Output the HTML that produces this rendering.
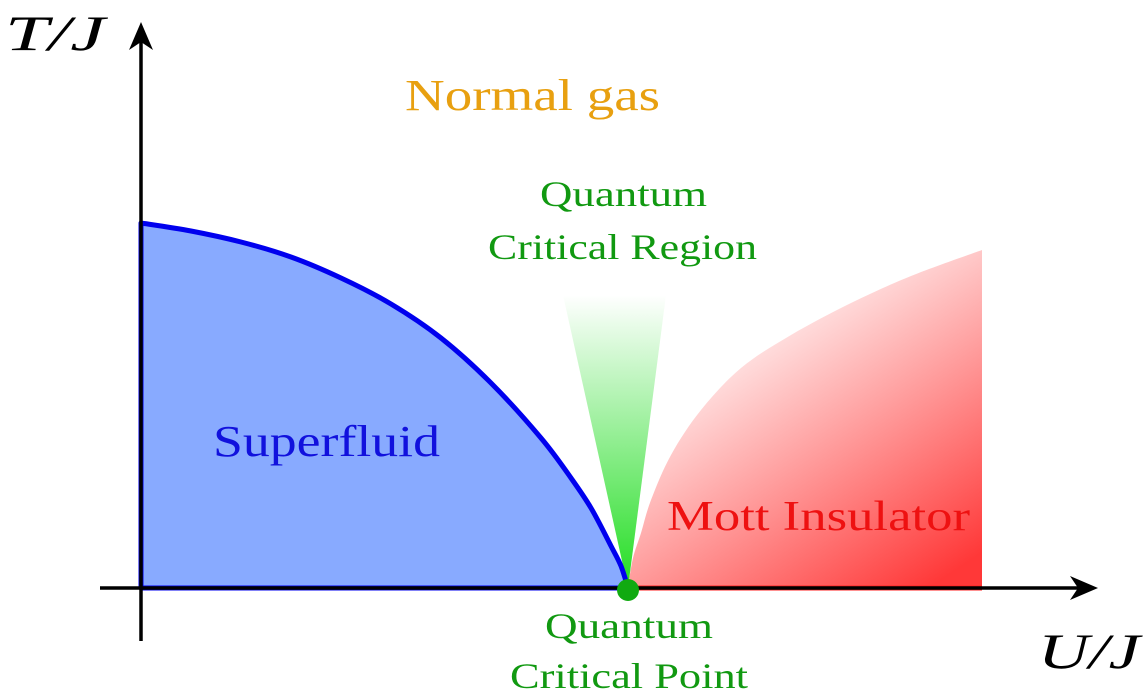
<!DOCTYPE html>
<html><head><meta charset="utf-8"><style>
html,body{margin:0;padding:0;background:#fff;}
svg{display:block;font-family:"Liberation Serif",serif;}
</style></head><body>
<svg id="chart" width="1145" height="690" viewBox="0 0 1145 690" xmlns="http://www.w3.org/2000/svg">
<defs>
<linearGradient id="gGreen" x1="0" y1="0" x2="0" y2="1">
<stop offset="0" stop-color="#22dd22" stop-opacity="0"/>
<stop offset="1" stop-color="#22dd22" stop-opacity="1"/>
</linearGradient>
<linearGradient id="gRed" x1="0.15" y1="0" x2="0.85" y2="1">
<stop offset="0.15" stop-color="#ff3333" stop-opacity="0"/>
<stop offset="1" stop-color="#ff2222" stop-opacity="0.9"/>
</linearGradient>
</defs>
<g id="regions"></g>
<g>
<line x1="100" y1="588" x2="1085" y2="588" stroke="#000" stroke-width="3.5"/>
<path d="M1098,588 L1070,576 L1078,588 L1070,600 Z" fill="#000"/>
<line x1="141" y1="641" x2="141" y2="35" stroke="#000" stroke-width="3.5"/>
<path d="M141,22 L129,50 L141,42 L153,50 Z" fill="#000"/>
</g>
<text x="5" y="50" font-size="50" font-style="italic" textLength="100" lengthAdjust="spacingAndGlyphs">T/J</text>
<text x="1038" y="668" font-size="50" font-style="italic" textLength="102" lengthAdjust="spacingAndGlyphs">U/J</text>
<text x="405" y="110" font-size="44" fill="#e8a010" textLength="255" lengthAdjust="spacingAndGlyphs">Normal gas</text>
<text x="540" y="206" font-size="36" fill="#119911" textLength="167" lengthAdjust="spacingAndGlyphs">Quantum</text>
<text x="488" y="259" font-size="36" fill="#119911" textLength="269" lengthAdjust="spacingAndGlyphs">Critical Region</text>
<text x="213" y="456" font-size="44" fill="#1111dd" textLength="227" lengthAdjust="spacingAndGlyphs">Superfluid</text>
<text x="667" y="530" font-size="42" fill="#ee1111" textLength="303" lengthAdjust="spacingAndGlyphs">Mott Insulator</text>
<text x="545" y="638" font-size="36" fill="#119911" textLength="168" lengthAdjust="spacingAndGlyphs">Quantum</text>
<text x="510" y="688" font-size="36" fill="#119911" textLength="238" lengthAdjust="spacingAndGlyphs">Critical Point</text>
</svg>
<script>
// data in axis units (U/J, T/J)
const sfU = [0,0.5,1,1.5,2,2.5,3,3.5,4,4.3,4.5,4.7,4.8,4.87];
const sfT = [3.65,3.57,3.46,3.31,3.1,2.84,2.5,2.05,1.5,1.1,0.8,0.42,0.22,0];
const mottU = [4.87,4.92,5.0,5.1,5.3,5.6,6.0,6.5,7.1,7.7,8.41];
const mottT = [0,0.3,0.55,0.88,1.33,1.78,2.2,2.53,2.85,3.12,3.38];
const qcpU = 4.87;
const coneTopT = 2.93;
const coneLeftU = 4.22;
const coneRightU = 5.25;
const mottRightU = 8.41;

function xs(u){return 141+u*100;}
function ys(t){return 588-t*100;}
const g=document.getElementById('regions');
const NS='http://www.w3.org/2000/svg';
function mk(tag,attrs){const e=document.createElementNS(NS,tag);for(const k in attrs)e.setAttribute(k,attrs[k]);g.appendChild(e);return e;}
function smooth(us,ts){
  const p=us.map((u,i)=>[xs(u),ys(ts[i])]);
  let s='M'+p[0][0]+','+p[0][1];
  for(let i=0;i<p.length-1;i++){
    const p0=p[Math.max(0,i-1)],p1=p[i],p2=p[i+1],p3=p[Math.min(p.length-1,i+2)];
    const c1=[p1[0]+(p2[0]-p0[0])/6,p1[1]+(p2[1]-p0[1])/6];
    const c2=[p2[0]-(p3[0]-p1[0])/6,p2[1]-(p3[1]-p1[1])/6];
    s+=' C'+c1[0].toFixed(1)+','+c1[1].toFixed(1)+' '+c2[0].toFixed(1)+','+c2[1].toFixed(1)+' '+p2[0].toFixed(1)+','+p2[1].toFixed(1);
  }
  return s;
}

const cone=mk('path',{d:'M'+xs(qcpU)+','+ys(0)+' L'+xs(coneLeftU)+','+ys(coneTopT)+' L'+xs(coneRightU)+','+ys(coneTopT)+' Z',fill:'url(#gGreen)'});



const sfPath=smooth(sfU,sfT);
const sfFill=mk('path',{d:sfPath+' L'+xs(0)+','+ys(0)+' Z',fill:'#88aaff'});


const sfLine=mk('path',{d:sfPath+' L'+xs(0)+','+ys(0)+' Z',fill:'none',stroke:'#0000ee','stroke-width':5,'stroke-linejoin':'round'});



const mott=mk('path',{d:smooth(mottU,mottT)+' L'+xs(mottRightU)+','+ys(0)+' Z',fill:'url(#gRed)'});


const ml=mk('line',{x1:xs(qcpU),y1:ys(0),x2:xs(mottRightU),y2:ys(0),stroke:'#ff2222','stroke-width':5});



const dot=document.createElementNS(NS,'circle');
dot.setAttribute('cx',xs(qcpU));dot.setAttribute('cy',ys(0)+2);dot.setAttribute('r',11);dot.setAttribute('fill','#11aa11');


document.getElementById('chart').appendChild(dot);
</script>
</body></html>
